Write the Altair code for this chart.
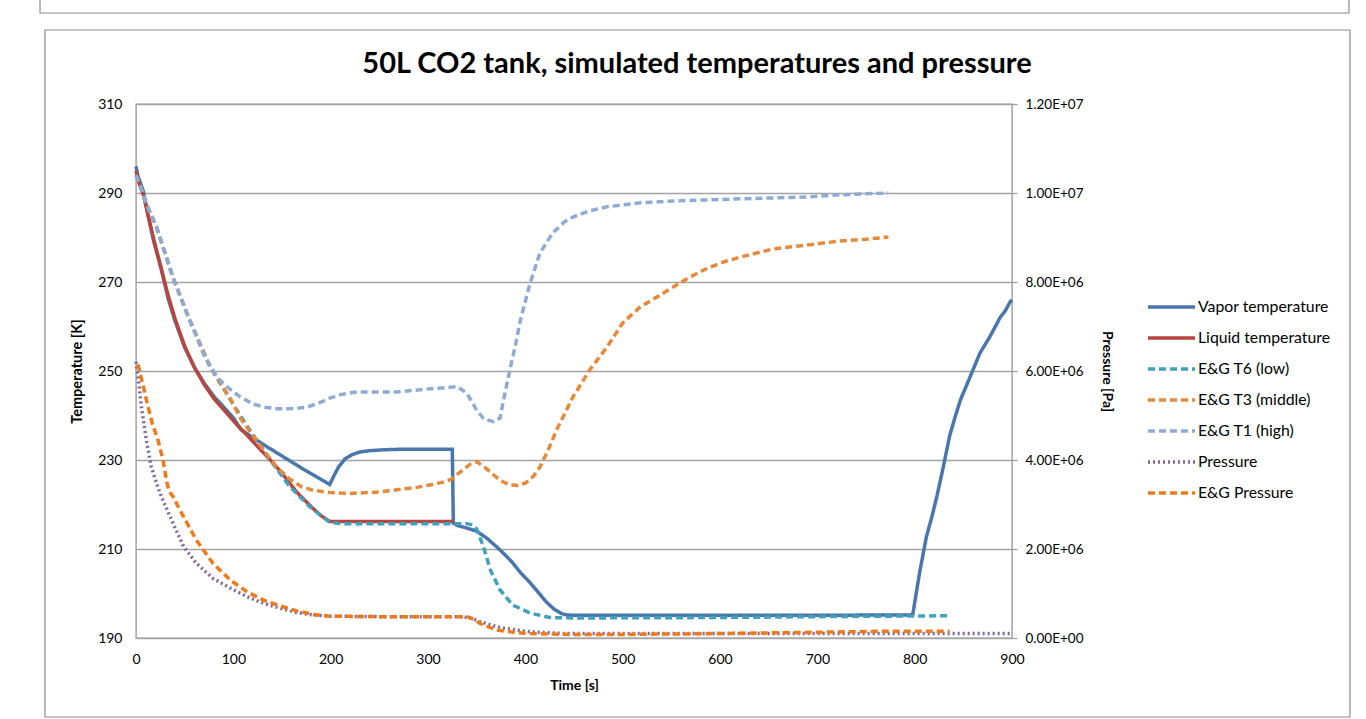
import altair as alt
import pandas as pd

# ---------------- data ----------------
vapor_t = [0, 2, 7.5, 12, 18, 26, 33, 40, 50, 60, 70, 80, 93, 100, 108, 130, 150, 170, 199,
           203, 208, 215, 222, 230, 240, 255, 270, 300, 325, 326, 330, 340, 350, 360, 371, 380,
           387, 395, 405, 415, 422, 430, 437, 442, 450, 500, 600, 700, 798, 805, 812, 818, 823,
           829, 836, 842, 847, 857, 867, 877, 888, 893, 898, 900]
vapor_T = [296.0, 293.8, 290.4, 285.3, 279.3, 272.8, 266.3, 261.3, 255.3, 250.8, 247.3, 244.3, 241.2,
           239.5, 236.8, 233.6, 230.9, 228.2, 224.5, 226.3, 228.4, 230.3, 231.2, 231.8, 232.1, 232.3,
           232.4, 232.4, 232.4, 215.8, 215.3, 214.7, 214.0, 212.5, 210.4, 208.5, 206.9, 204.7, 202.4,
           199.8, 198.0, 196.4, 195.5, 195.2, 195.1, 195.1, 195.1, 195.1, 195.2, 204.6, 212.7, 217.5,
           222.0, 228.0, 235.5, 240.0, 243.5, 248.7, 254.0, 257.6, 262.1, 263.5, 265.5, 266.0]

liquid_t = [0, 3, 7.5, 12, 18, 26, 33, 40, 50, 60, 70, 80, 93, 105, 114, 125, 138, 150, 165, 180,
            190, 199, 260, 326]
liquid_T = [295.0, 292.3, 289.6, 285.5, 279.8, 273.0, 267.0, 261.8, 255.6, 250.8, 247.0, 243.8, 240.6,
            237.6, 235.6, 233.0, 230.0, 227.0, 222.8, 219.5, 217.5, 216.2, 216.2, 216.2]

t6_t = [0, 5, 10.6, 21, 38, 55, 76, 97, 117, 138, 158, 179, 199, 210, 300, 340, 346, 350, 357, 364,
        374, 387, 405, 425, 450, 600, 700, 835]
t6_T = [294.0, 291.2, 287.5, 282.4, 271.0, 261.5, 251.0, 243.5, 236.7, 230.0, 224.0, 219.4, 216.0,
        215.7, 215.7, 215.7, 215.4, 214.5, 210.5, 205.3, 200.8, 197.4, 195.6, 194.6, 194.5, 194.6,
        194.8, 195.0]

t3_t = [0, 5, 10.6, 21, 38, 55, 76, 97, 107, 120, 131, 145, 158, 170, 182, 199, 220, 250, 268, 290,
        302, 315, 323, 336, 343, 350, 357, 364, 371, 377, 384, 392, 400, 408, 415, 424, 432, 449,
        466, 484, 500, 518, 535, 552, 569, 587, 605, 621, 654, 689, 723, 750, 773]
t3_T = [294.0, 291.2, 287.5, 282.4, 271.0, 261.5, 251.0, 243.8, 239.5, 235.5, 232.2, 228.3, 225.7,
        224.0, 223.2, 222.7, 222.5, 222.8, 223.3, 223.9, 224.4, 225.0, 225.6, 227.8, 229.0, 229.6,
        228.6, 227.3, 226.0, 225.1, 224.4, 224.3, 224.8, 226.3, 228.4, 232.5, 236.7, 244.2, 250.2,
        255.4, 260.8, 264.4, 266.6, 268.9, 271.1, 273.1, 274.6, 275.6, 277.4, 278.3, 279.2, 279.6,
        280.1]

t1_t = [0, 5, 10.6, 21, 38, 55, 70, 80, 86, 97, 107, 120, 131, 145, 155, 165, 176, 190, 199, 210,
        227, 268, 302, 320, 330, 340, 350, 357, 367, 374, 377, 384, 390, 395, 405, 415, 428, 440,
        449, 466, 484, 518, 552, 621, 689, 723, 773]
t1_T = [294.0, 291.2, 287.5, 282.4, 271.0, 261.5, 253.5, 249.8, 248.0, 245.8, 244.2, 242.6, 241.9,
        241.5, 241.5, 241.6, 241.9, 243.0, 243.9, 244.7, 245.3, 245.3, 246.0, 246.3, 246.5, 245.0,
        241.2, 239.3, 238.6, 239.4, 242.8, 250.2, 256.0, 261.5, 269.8, 276.5, 281.0, 283.5, 284.6,
        286.0, 286.9, 287.8, 288.2, 288.7, 289.1, 289.6, 290.0]

press_t = [0, 3, 5.5, 10.6, 15.7, 21, 26, 38, 49, 62, 79, 97, 114, 131, 148, 165, 182, 199, 250,
           336, 345, 353, 371, 390, 405, 439, 508, 600, 700, 800, 900]
press_P = [6.21e6, 5.70e6, 5.20e6, 4.45e6, 3.85e6, 3.48e6, 3.18e6, 2.58e6, 2.05e6, 1.68e6, 1.34e6,
           1.12e6, 0.93e6, 0.78e6, 0.67e6, 0.57e6, 0.52e6, 0.49e6, 0.48e6, 0.48e6, 0.44e6, 0.37e6,
           0.25e6, 0.18e6, 0.14e6, 0.10e6, 0.10e6, 0.10e6, 0.10e6, 0.10e6, 0.10e6]

egp_t = [2, 7, 12.3, 17, 22.6, 27.7, 31.5, 34, 38, 45, 62, 79, 97, 114, 131, 148, 165, 182, 199, 250,
         340, 347, 353, 362, 371, 390, 405, 450, 500, 600, 700, 760, 836]
egp_P = [6.15e6, 5.70e6, 5.20e6, 4.80e6, 4.45e6, 4.00e6, 3.51e6, 3.30e6, 3.18e6, 2.88e6, 2.20e6,
         1.68e6, 1.30e6, 1.04e6, 0.85e6, 0.72e6, 0.61e6, 0.53e6, 0.49e6, 0.48e6, 0.48e6, 0.42e6,
         0.33e6, 0.25e6, 0.18e6, 0.12e6, 0.10e6, 0.08e6, 0.08e6, 0.10e6, 0.13e6, 0.15e6, 0.15e6]

temp_series = ["Vapor temperature", "Liquid temperature", "E&G T6 (low)",
               "E&G T3 (middle)", "E&G T1 (high)"]
press_series = ["Pressure", "E&G Pressure"]
all_series = temp_series + press_series

x_ticks = [0, 100, 200, 300, 400, 500, 600, 700, 800, 900]
t_ticks = [190, 210, 230, 250, 270, 290, 310]
p_ticks = [0, 2e6, 4e6, 6e6, 8e6, 1e7, 1.2e7]

# ---------------- tables ----------------
rows = []
for name, ts, vs in zip(temp_series,
                        [vapor_t, liquid_t, t6_t, t3_t, t1_t],
                        [vapor_T, liquid_T, t6_T, t3_T, t1_T]):
    for i, (a, b) in enumerate(zip(ts, vs)):
        rows.append({"series": name, "t": a, "T": b, "i": i})
temp_df = pd.DataFrame(rows)

rows = []
for name, ts, vs in zip(press_series, [press_t, egp_t], [press_P, egp_P]):
    for i, (a, b) in enumerate(zip(ts, vs)):
        rows.append({"series": name, "t": a, "P": b, "i": i})
press_df = pd.DataFrame(rows)

# ---------------- styles ----------------
colors = ["#4a76ae", "#b8463f", "#3ea2bd", "#e8893a", "#8eaad6", "#8064a2", "#f07a1a"]
dashes = [[1, 0], [1, 0], [7, 4], [7, 4], [7, 4], [2, 3], [7, 4]]
widths = [3.5, 3.5, 2.2, 2.2, 2.2, 2.0, 2.5]
FONT = "Lato"

legend = alt.Legend(title=None, orient="none", legendX=1010, legendY=195,
                    symbolType="stroke", symbolSize=2209, clipHeight=16,
                    rowPadding=15.0, labelFontSize=15.8, labelOffset=1, padding=0,
                    labelFont=FONT, labelColor="#000")

color_enc = alt.Color("series:N", scale=alt.Scale(domain=all_series, range=colors), legend=legend)
dash_enc = alt.StrokeDash("series:N", scale=alt.Scale(domain=all_series, range=dashes), legend=legend)
width_enc = alt.StrokeWidth("series:N", scale=alt.Scale(domain=all_series, range=widths), legend=legend)

x_enc = alt.X("t:Q", scale=alt.Scale(domain=[0, 900], nice=False),
              axis=alt.Axis(title="Time [s]", values=x_ticks, grid=False, tickSize=0,
                            labelPadding=14, titlePadding=12, domain=False, labelFlush=False))

temp_layer = alt.Chart(temp_df).mark_line().encode(
    x=x_enc,
    y=alt.Y("T:Q", scale=alt.Scale(domain=[190, 310], nice=False, zero=False),
            axis=alt.Axis(title="Temperature [K]", values=t_ticks, grid=True, tickSize=0,
                          labelPadding=14, titlePadding=13, domain=False, labelFlush=False,
                          titleFontSize=14.5)),
    color=color_enc, strokeDash=dash_enc, strokeWidth=width_enc,
    order="i:Q",
)

press_layer = alt.Chart(press_df).mark_line().encode(
    x=x_enc,
    y=alt.Y("P:Q", scale=alt.Scale(domain=[0, 1.2e7], nice=False),
            axis=alt.Axis(title="Pressure [Pa]", orient="right", values=p_ticks, grid=False,
                          tickSize=5, labelPadding=8, titlePadding=17, domain=False,
                          labelFlush=False, labelFontSize=13.5,
                          labelExpr="replace(upper(format(datum.value, '.2e')), 'E+', 'E+0')")),
    color=color_enc, strokeDash=dash_enc, strokeWidth=width_enc,
    order="i:Q",
)

frame_df = pd.DataFrame({"k": [0]})
frame = alt.Chart(frame_df).mark_rect(filled=False, stroke="#8c8c8c", strokeWidth=1.2).encode(
    x=alt.value(-91), x2=alt.value(1214), y=alt.value(-74), y2=alt.value(613))
frame_top = alt.Chart(frame_df).mark_rect(filled=False, stroke="#8c8c8c", strokeWidth=1.2).encode(
    x=alt.value(-96), x2=alt.value(1213), y=alt.value(-106), y2=alt.value(-91))

chart = alt.layer(frame, frame_top, temp_layer, press_layer).resolve_scale(
    y="independent"
).properties(
    width=876, height=534,
    title=alt.TitleParams(text="50L CO2 tank, simulated temperatures and pressure",
                          font=FONT, fontSize=29, fontWeight="bold", color="#000",
                          anchor="middle", frame="group", dx=123, offset=-82),
    autosize=alt.AutoSizeParams(type="none"),
    padding={"left": 136, "top": 104, "right": 354, "bottom": 81},
    background="white",
).configure_view(
    stroke="#9c9c9c", strokeWidth=1.4
).configure_axis(
    labelFont=FONT, labelFontSize=14, labelColor="#000",
    titleFont=FONT, titleFontSize=14, titleFontWeight="bold", titleColor="#000",
    gridColor="#a3a3a3", gridWidth=1.4, tickColor="#9c9c9c", tickWidth=1.2,
)

chart.save("out.html", embed_options={"renderer": "svg", "actions": False})
